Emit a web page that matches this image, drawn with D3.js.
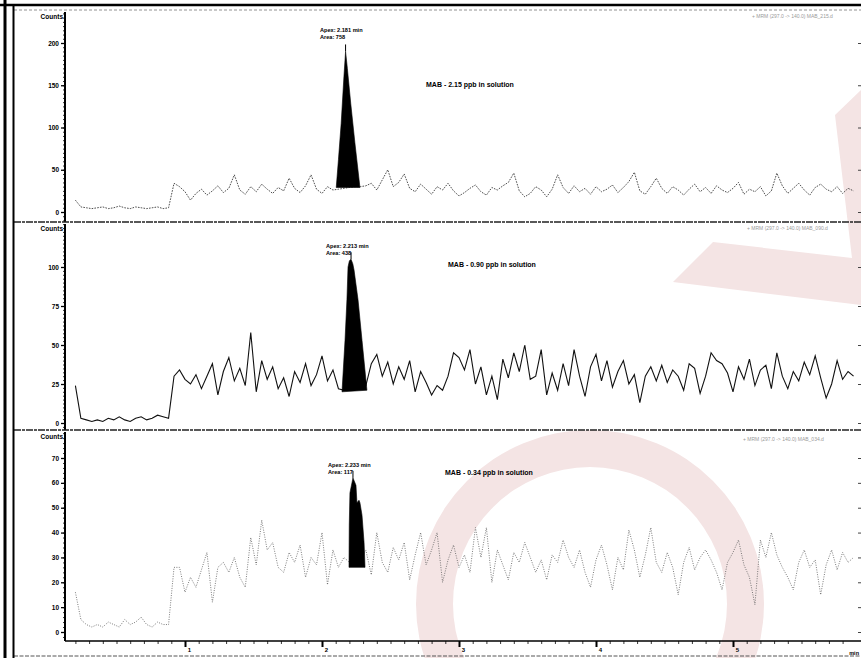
<!DOCTYPE html>
<html lang="en">
<head>
<meta charset="UTF-8">
<title>MAB chromatograms</title>
<script src="https://cdn.jsdelivr.net/npm/d3@7"></script>
<style>
  body { margin: 0; background: #fff; }
  svg text { font-family: "Liberation Sans", Arial, sans-serif; }
  .lbl { font-weight: bold; fill: #000; }
</style>
</head>
<body>
<script>
// traces are sampled every dt minutes starting at t0
var t0 = 0.2, dt = 0.04;

// 2.15 ppb trace (counts)
var p1Signal = [
  14, 6, 5, 4, 5, 6, 4, 5, 7, 5, 4, 6, 5, 4, 5, 6, 4, 5,
  34, 30, 24, 14, 22, 27, 20, 25, 31, 23,
  28, 44, 26, 21, 30, 24, 33, 27, 22, 29,
  25, 40, 28, 23, 31, 44, 27, 22, 30, 26,
  27, 28, 29, 30, 30, 31, 34, 26, 38, 50,
  30, 35, 45, 28, 24, 33, 27, 21, 30, 26,
  34, 25, 19, 23, 28, 32, 24, 20, 29, 26,
  31, 35, 46, 25, 18, 22, 30, 26, 18, 27,
  44, 29, 22, 31, 24, 28, 21, 30, 24, 27,
  32, 23, 29, 36, 47, 25, 21, 30, 40, 28,
  22, 30, 26, 20, 27, 33, 24, 29, 22, 31,
  26, 23, 28, 35, 21, 27, 24, 30, 19, 25,
  46, 31, 22, 28, 34, 26, 20, 29, 33, 27,
  24, 30, 22, 28, 25
];
// 0.90 ppb trace
var p2Signal = [
  24, 3, 2, 1, 2, 1, 3, 2, 4, 2, 1, 3, 4, 2, 3, 5, 4, 3,
  30, 34, 28, 25, 31, 22, 30, 38, 18, 33,
  42, 27, 35, 24, 58, 20, 40, 28, 36, 22,
  29, 17, 33, 26, 38, 24, 31, 43, 27, 34,
  22, 21, 22, 23, 22, 24, 38, 44, 30, 39,
  25, 36, 28, 40, 20, 33, 26, 18, 24, 21,
  30, 45, 42, 34, 47, 25, 36, 18, 30, 15,
  41, 29, 45, 33, 50, 28, 30, 47, 18, 32,
  21, 38, 24, 47, 30, 17, 36, 44, 27, 40,
  23, 33, 40, 25, 31, 13, 30, 36, 27, 37,
  26, 34, 30, 21, 38, 35, 19, 30, 45, 40,
  38, 32, 20, 36, 28, 41, 24, 34, 37, 22,
  45, 30, 22, 33, 27, 39, 31, 43, 29, 16,
  25, 40, 28, 33, 30
];
// 0.34 ppb trace
var p3Signal = [
  16, 5, 3, 2, 3, 2, 4, 3, 2, 5, 3, 4, 6, 3, 2, 4, 3, 3,
  26, 26, 16, 22, 18, 25, 32, 12, 26, 28,
  24, 30, 22, 18, 38, 27, 45, 33, 36, 26,
  24, 32, 28, 35, 22, 30, 27, 40, 19, 33,
  26, 30, 28, 27, 29, 33, 23, 40, 28, 24,
  34, 29, 36, 21, 31, 40, 27, 33, 40, 20,
  29, 35, 26, 31, 24, 42, 30, 42, 20, 33,
  27, 21, 32, 28, 36, 30, 24, 29, 21, 31,
  28, 37, 30, 26, 33, 24, 18, 29, 35, 27,
  17, 30, 25, 41, 33, 22, 31, 42, 28, 24,
  32, 26, 15, 28, 34, 25, 30, 33, 29, 24,
  17, 28, 32, 37, 27, 22, 11, 37, 30, 40,
  31, 26, 22, 17, 28, 33, 26, 29, 15, 27,
  33, 25, 32, 28, 30
];

// integrated peaks [min, counts]
var p1Peak = [[2.104, 29], [2.12, 62], [2.14, 105], [2.16, 160], [2.172, 190],
              [2.185, 170], [2.21, 128], [2.24, 82], [2.277, 29]];
var p2Peak = [[2.146, 20], [2.168, 53], [2.182, 79], [2.19, 100], [2.2, 104], [2.212, 105],
              [2.225, 102], [2.234, 98], [2.263, 79], [2.292, 53], [2.328, 21]];
var p3Peak = [[2.197, 26], [2.199, 43], [2.204, 56], [2.226, 62], [2.248, 59], [2.255, 52],
              [2.27, 53], [2.277, 52], [2.292, 47], [2.307, 36], [2.314, 26]];

var yTicks1 = [0, 50, 100, 150, 200];
var yTicks2 = [0, 25, 50, 75, 100];
var yTicks3 = [0, 10, 20, 30, 40, 50, 60, 70];
var xTicks = [1, 2, 3, 4, 5];

var sampleLabels = ["MAB - 2.15 ppb in solution", "MAB - 0.90 ppb in solution", "MAB - 0.34 ppb in solution"];
var apexLabels = ["Apex: 2.181 min", "Apex: 2.213 min", "Apex: 2.233 min"];
var areaLabels = ["Area: 758", "Area: 438", "Area: 117"];
var headerLabels = ["+ MRM (297.0 -> 140.0) MAB_215.d", "+ MRM (297.0 -> 140.0) MAB_090.d", "+ MRM (297.0 -> 140.0) MAB_034.d"];

var W = 861, H = 658, left = 65, right = 858;

var svg = d3.select("body").append("svg")
    .attr("width", W).attr("height", H);

// scanned watermark
var wm = svg.append("g").attr("fill", "#f4e4e4");
wm.append("path")
    .attr("transform", "translate(590,604)")
    .attr("d", d3.arc()({innerRadius: 137, outerRadius: 174, startAngle: 0, endAngle: 2 * Math.PI}));
wm.append("polygon")
    .attr("points", "835,115 861,90 861,305 673,282 713,242 852,258");

var x = d3.scaleLinear().domain([0, 6]).range([48, 870]);

var panels = [
  {top: 10, bottom: 222, y: d3.scaleLinear().domain([0, 200]).range([212, 43]), ticks: yTicks1, minor: 5,
   signal: p1Signal, peak: p1Peak, stroke: "#3a3a3a", width: 0.9, dash: "1.6,1.2",
   apexPos: [320, 32], labelPos: [426, 87], headPos: [752, 18]},
  {top: 222, bottom: 430, y: d3.scaleLinear().domain([0, 100]).range([423, 267]), ticks: yTicks2, minor: 2.5,
   signal: p2Signal, peak: p2Peak, stroke: "#111", width: 1.1, dash: null,
   apexPos: [326, 248], labelPos: [448, 267], headPos: [747, 230]},
  {top: 430, bottom: 641, y: d3.scaleLinear().domain([0, 70]).range([632, 458]), ticks: yTicks3, minor: 2,
   signal: p3Signal, peak: p3Peak, stroke: "#5a5a5a", width: 0.8, dash: "1,1.4",
   apexPos: [328, 467], labelPos: [445, 475], headPos: [743, 441]}
];

var defs = svg.append("defs");

panels.forEach(function(p, i) {
  var g = svg.append("g");
  var pts = p.signal.map(function(v, k) { return [t0 + k * dt, v]; });

  defs.append("clipPath").attr("id", "clip" + i)
    .append("rect").attr("x", left + 1).attr("y", p.top).attr("width", right - left - 1).attr("height", p.bottom - p.top);

  var line = d3.line().x(function(d) { return x(d[0]); }).y(function(d) { return p.y(d[1]); });

  g.append("path")
      .attr("clip-path", "url(#clip" + i + ")")
      .attr("d", line(pts))
      .attr("fill", "none")
      .attr("stroke", p.stroke)
      .attr("stroke-width", p.width)
      .attr("stroke-dasharray", p.dash);

  // filled peak
  g.append("path")
      .attr("d", line(p.peak) + "Z")
      .attr("fill", "#000")
      .attr("stroke", "#000")
      .attr("stroke-width", 0.6);

  var apex = p.peak.reduce(function(a, b) { return b[1] > a[1] ? b : a; });
  g.append("line")
      .attr("x1", x(apex[0])).attr("x2", x(apex[0]))
      .attr("y1", p.y(apex[1])).attr("y2", p.y(apex[1]) - 7)
      .attr("stroke", "#000").attr("stroke-width", 1);

  g.append("text").attr("class", "lbl").attr("x", p.apexPos[0]).attr("y", p.apexPos[1])
      .style("font-size", "5.6px").text(apexLabels[i]);
  g.append("text").attr("class", "lbl").attr("x", p.apexPos[0]).attr("y", p.apexPos[1] + 6.5)
      .style("font-size", "5.6px").text(areaLabels[i]);
  g.append("text").attr("class", "lbl").attr("x", p.labelPos[0]).attr("y", p.labelPos[1])
      .style("font-size", "7px").text(sampleLabels[i]);
  g.append("text").attr("x", p.headPos[0]).attr("y", p.headPos[1])
      .style("font-size", "5px").attr("fill", "#9a9a9a").text(headerLabels[i]);

  // y axis
  var lo = p.y.invert(p.bottom), hi = p.y.invert(p.top + 2);
  var minorVals = d3.range(0, hi, p.minor).concat(d3.range(-p.minor, lo, -p.minor));
  g.append("g").attr("transform", "translate(" + left + ",0)")
      .call(d3.axisLeft(p.y).tickValues(minorVals).tickSize(2).tickFormat(""))
      .call(function(s) { s.select(".domain").remove(); s.selectAll("line").attr("stroke-width", 0.8); });
  g.append("g").attr("transform", "translate(" + left + ",0)")
      .call(d3.axisLeft(p.y).tickValues(p.ticks).tickSize(4).tickPadding(2).tickFormat(d3.format("d")))
      .call(function(s) {
        s.select(".domain").remove();
        s.selectAll("line").attr("stroke-width", 1.3);
        s.selectAll("text").attr("class", "lbl").style("font-size", "6.5px");
      });
  // right-edge ticks
  g.append("g").attr("transform", "translate(" + W + ",0)")
      .call(d3.axisLeft(p.y).tickValues(p.ticks).tickSize(3).tickFormat(""))
      .call(function(s) { s.select(".domain").remove(); s.selectAll("line").attr("stroke", "#444"); });

  g.append("line").attr("x1", left).attr("x2", left).attr("y1", p.top + 2).attr("y2", p.bottom)
      .attr("stroke", "#000").attr("stroke-width", 2);
  g.append("text").attr("class", "lbl").attr("x", left - 2).attr("y", p.top + 9)
      .attr("text-anchor", "end").style("font-size", "6.5px").text("Counts");

  // panel separator
  if (i > 0) {
    svg.append("line").attr("x1", 14).attr("x2", W).attr("y1", p.top).attr("y2", p.top)
        .attr("stroke", "#222").attr("stroke-width", 1.3).attr("stroke-dasharray", "7,1,3,1");
  }
});

// time axis
var xa = svg.append("g").attr("transform", "translate(0,641)");
xa.call(d3.axisBottom(x).tickValues(d3.range(0.2, 5.85, 0.1)).tickSize(3).tickFormat(""))
  .call(function(s) { s.select(".domain").remove(); s.selectAll("line").attr("stroke-width", 0.8); });
var xb = svg.append("g").attr("transform", "translate(0,641)");
xb.call(d3.axisBottom(x).tickValues(xTicks).tickSize(6).tickPadding(1).tickFormat(d3.format("d")))
  .call(function(s) {
    s.select(".domain").remove();
    s.selectAll("line").attr("stroke-width", 2);
    s.selectAll("text").attr("class", "lbl").style("font-size", "6px").attr("dx", "4");
  });
svg.append("line").attr("x1", left).attr("x2", W).attr("y1", 641).attr("y2", 641)
    .attr("stroke", "#000").attr("stroke-width", 1.5);
svg.append("text").attr("class", "lbl").attr("x", 859).attr("y", 655).attr("text-anchor", "end")
    .style("font-size", "5.5px").text("min");

// frame of the scanned printout
svg.append("line").attr("x1", 0).attr("x2", W).attr("y1", 5).attr("y2", 5).attr("stroke", "#000").attr("stroke-width", 2.5);
svg.append("line").attr("x1", 14).attr("x2", W).attr("y1", 10).attr("y2", 10)
    .attr("stroke", "#777").attr("stroke-width", 0.8).attr("stroke-dasharray", "3,2");
svg.append("line").attr("x1", 14).attr("x2", W).attr("y1", 656).attr("y2", 656)
    .attr("stroke", "#555").attr("stroke-width", 1).attr("stroke-dasharray", "4,1.5");
svg.append("line").attr("x1", 5).attr("x2", 5).attr("y1", 0).attr("y2", H).attr("stroke", "#000").attr("stroke-width", 3);
svg.append("line").attr("x1", 13.5).attr("x2", 13.5).attr("y1", 5).attr("y2", H).attr("stroke", "#000").attr("stroke-width", 2);
</script>
</body>
</html>
